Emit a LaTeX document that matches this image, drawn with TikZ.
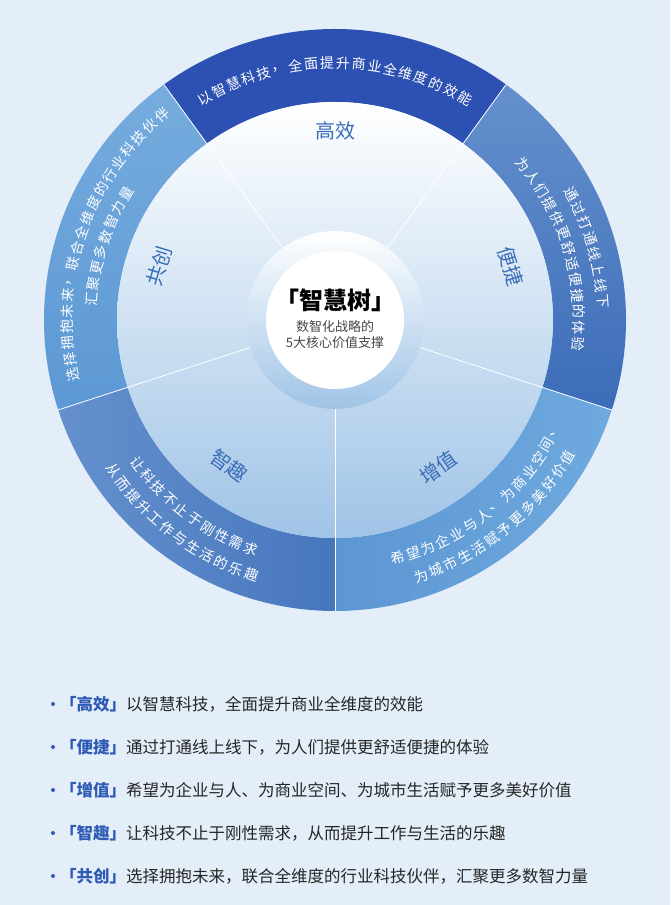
\documentclass[tikz,border=0pt]{standalone}
\usepackage{fontspec}
\setmainfont{Noto Sans CJK SC}
\definecolor{bg}{HTML}{E4EEF8}
\definecolor{lab}{HTML}{3A6DB8}
\definecolor{hb}{HTML}{2F5BB5}
\tikzset{
 ringfont/.style={text=white,font=\fontsize{14}{14}\selectfont,inner sep=0pt},
 seclab/.style={text=lab,font=\fontsize{20}{22}\selectfont,inner sep=0pt},
 listfont/.style={anchor=west,inner sep=0pt,font=\fontsize{16.5}{18}\selectfont,text=black!85},
 sepline/.style={white,line width=0.8pt}
}
\newcommand\ringtext[6]{%
 \foreach \ch [count=\i] in {#6}{%
  \pgfmathsetmacro\ang{#2+#4*((#3+1)/2-\i)*16/#1*57.2958}%
  \node[ringfont,rotate=\ang+#5] at (\ang:#1pt) {\ch};}}
\begin{document}
\begin{tikzpicture}
\useasboundingbox (0,0) rectangle (670pt,905pt);
\fill[bg] (0,0) rectangle (670pt,905pt);
\begin{scope}[shift={(335pt,585pt)}]
 \path[fill={rgb,255:red,45;green,80;blue,179}] (54:291pt) arc[start angle=54,end angle=126,radius=291pt] -- (126:218pt) arc[start angle=126,end angle=54,radius=218pt] -- cycle;
 \path[top color={rgb,255:red,100;green,145;blue,205},bottom color={rgb,255:red,60;green,108;blue,184}] (-18:291pt) arc[start angle=-18,end angle=54,radius=291pt] -- (54:218pt) arc[start angle=54,end angle=-18,radius=218pt] -- cycle;
 \path[left color={rgb,255:red,92;green,150;blue,212},right color={rgb,255:red,110;green,170;blue,222}] (-90:291pt) arc[start angle=-90,end angle=-18,radius=291pt] -- (-18:218pt) arc[start angle=-18,end angle=-90,radius=218pt] -- cycle;
 \path[left color={rgb,255:red,100;green,145;blue,205},right color={rgb,255:red,70;green,118;blue,190}] (198:291pt) arc[start angle=198,end angle=270,radius=291pt] -- (270:218pt) arc[start angle=270,end angle=198,radius=218pt] -- cycle;
 \path[top color={rgb,255:red,118;green,172;blue,222},bottom color={rgb,255:red,92;green,152;blue,212}] (126:291pt) arc[start angle=126,end angle=198,radius=291pt] -- (198:218pt) arc[start angle=198,end angle=126,radius=218pt] -- cycle;
 \shade[top color=white,bottom color={rgb,255:red,160;green,196;blue,231}] (0,0) circle[radius=218pt];
 \foreach \a in {54,126,198,270,342} \draw[sepline] (\a:89pt) -- (\a:291pt);
 \shade[top color=white,bottom color={rgb,255:red,160;green,196;blue,230}] (0,0) circle[radius=89pt];
 \fill[white] (0,0) circle[radius=69pt];
 \node[inner sep=0pt,font=\fontsize{24}{26}\selectfont\bfseries] (title) at (0,20pt) {「智慧树」};
 \node[inner sep=0pt,font=\fontsize{13}{16}\selectfont,text=black!72,align=center] (sub) at (0,-15pt) {数智化战略的\\5大核心价值支撑};
 \node[seclab] (l1) at (90:189pt) {高效};
 \node[seclab,rotate=-73] (l2) at (17:184pt) {便捷};
 \node[seclab,rotate=35] (l3) at (-55:180pt) {增值};
 \node[seclab,rotate=-36] (l4) at (-126:180pt) {智趣};
 \node[seclab,rotate=73] (l5) at (163:184pt) {共创};
 \ringtext{257}{90}{18}{1}{-90}{以,智,慧,科,技,，,全,面,提,升,商,业,全,维,度,的,效,能}
 \ringtext{268}{16}{8}{1}{-90}{通,过,打,通,线,上,线,下}
 \ringtext{244}{17}{13}{1}{-90}{为,人,们,提,供,更,舒,适,便,捷,的,体,验}
 \ringtext{268}{161}{19}{1}{-90}{选,择,拥,抱,未,来,，,联,合,全,维,度,的,行,业,科,技,伙,伴}
 \ringtext{244}{162}{8}{1}{-90}{汇,聚,更,多,数,智,力,量}
 \ringtext{244}{-127}{10}{-1}{90}{让,科,技,不,止,于,刚,性,需,求}
 \ringtext{268}{-127}{12}{-1}{90}{从,而,提,升,工,作,与,生,活,的,乐,趣}
 \ringtext{246}{-51}{14}{-1}{90}{希,望,为,企,业,与,人,、,为,商,业,空,间,、}
 \ringtext{270}{-51}{13}{-1}{90}{为,城,市,生,活,赋,予,更,多,美,好,价,值}
\end{scope}
\foreach \y/\k/\t [count=\j] in {201/高效/以智慧科技，全面提升商业全维度的效能,
 158/便捷/通过打通线上线下，为人们提供更舒适便捷的体验,
 115/增值/希望为企业与人、为商业空间、为城市生活赋予更多美好价值,
 72/智趣/让科技不止于刚性需求，从而提升工作与生活的乐趣,
 29/共创/选择拥抱未来，联合全维度的行业科技伙伴，汇聚更多数智力量}{
 \fill[hb] (53pt,\y pt) circle[radius=2pt];
 \node[listfont] (item\j) at (60pt,\y pt) {\textcolor{hb}{\bfseries 「\k」}\t};
}
\end{tikzpicture}
\end{document}
